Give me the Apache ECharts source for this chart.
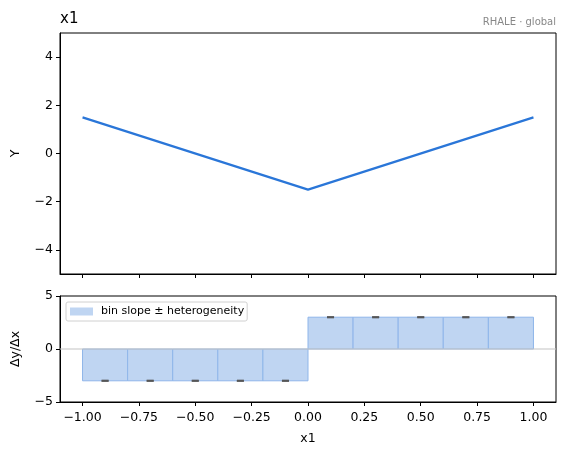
<!DOCTYPE html>
<html>
<head>
<meta charset="utf-8">
<script src="https://cdn.jsdelivr.net/npm/echarts@6/dist/echarts.min.js"></script>
<style>
  html, body { margin: 0; padding: 0; background: #fff; }
  #main { width: 565px; height: 455px; }
</style>
</head>
<body>
<div id="main"></div>
<script>
// effect curve (top panel)
var curveX = [-1.0, 0.0, 1.0];
var curveY = [1.5, -1.5, 1.5];

// bins (bottom panel)
var binEdges = [-1.0, -0.8, -0.6, -0.4, -0.2, 0.0, 0.2, 0.4, 0.6, 0.8, 1.0];
var binSlopes = [-3, -3, -3, -3, -3, 3, 3, 3, 3, 3];
var binHetero = [0, 0, 0, 0, 0, 0, 0, 0, 0, 0];

// tick labels
var xTicks = [-1.0, -0.75, -0.5, -0.25, 0.0, 0.25, 0.5, 0.75, 1.0];
var yTicksTop = [-4, -2, 0, 2, 4];
var yTicksBottom = [-5, 0, 5];

var FONT = 'DejaVu Sans';
function minus(s) { return String(s).replace('-', '\u2212'); }

var lineData = curveX.map(function (x, i) { return [x, curveY[i]]; });
var barData = binSlopes.map(function (s, i) { return [binEdges[i], binEdges[i + 1], s]; });
var errData = binSlopes.map(function (s, i) {
  return [(binEdges[i] + binEdges[i + 1]) / 2, s, binHetero[i]];
});

var myChart = echarts.init(document.getElementById('main'));

var tickStyle = { show: true, inside: false, length: 4, lineStyle: { color: '#000', width: 1 } };
var lineAxis = { show: true, onZero: false, lineStyle: { color: '#000', width: 1 } };
var labelStyle = { color: '#000', fontSize: 12.5, fontFamily: FONT };

var option = {
  animation: false,
  textStyle: { fontFamily: FONT },
  title: [
    { text: 'x1', left: 60, top: 12, padding: 0, textStyle: { fontSize: 15, fontWeight: 'normal', color: '#000', fontFamily: FONT } },
    { text: 'RHALE \u00b7 global', right: 9, top: 17, padding: 0, textStyle: { fontSize: 10, fontWeight: 'normal', color: '#888', fontFamily: FONT } }
  ],
  legend: {
    data: [{ name: 'bin slope \u00b1 heterogeneity', icon: 'rect' }],
    left: 66, top: 302,
    itemWidth: 23, itemHeight: 8,
    padding: [4, 3, 4, 4],
    borderColor: '#d0d0d0', borderWidth: 1, borderRadius: 2,
    textStyle: { fontSize: 11, color: '#000', fontFamily: FONT, padding: [0, 0, 0, 3] }
  },
  grid: [
    { left: 60, right: 9, top: 33, height: 241, containLabel: false, outerBoundsMode: 'none', show: true, borderColor: '#000', borderWidth: 1, backgroundColor: 'transparent' },
    { left: 60, right: 9, top: 296, height: 106, containLabel: false, outerBoundsMode: 'none', show: true, borderColor: '#000', borderWidth: 1, backgroundColor: 'transparent' }
  ],
  xAxis: [
    {
      type: 'value', gridIndex: 0, min: -1.1, max: 1.1,
      axisLine: lineAxis, splitLine: { show: false },
      axisTick: Object.assign({ customValues: xTicks }, tickStyle),
      axisLabel: { show: false, customValues: xTicks }
    },
    {
      type: 'value', gridIndex: 1, min: -1.1, max: 1.1,
      name: 'x1', nameLocation: 'middle', nameGap: 30,
      nameTextStyle: { fontSize: 12.5, color: '#000', fontFamily: FONT },
      axisLine: lineAxis, splitLine: { show: false },
      axisTick: Object.assign({ customValues: xTicks }, tickStyle),
      axisLabel: Object.assign({
        customValues: xTicks, margin: 9,
        formatter: function (v) { return minus(v.toFixed(2)); }
      }, labelStyle)
    }
  ],
  yAxis: [
    {
      type: 'value', gridIndex: 0, min: -5, max: 5,
      name: 'Y', nameLocation: 'middle', nameGap: 38,
      nameTextStyle: { fontSize: 12.5, color: '#000', fontFamily: FONT },
      axisLine: lineAxis, splitLine: { show: false },
      axisTick: Object.assign({ customValues: yTicksTop }, tickStyle),
      axisLabel: Object.assign({ customValues: yTicksTop, margin: 7, formatter: function (v) { return minus(v); } }, labelStyle)
    },
    {
      type: 'value', gridIndex: 1, min: -5, max: 5,
      name: '\u0394y/\u0394x', nameLocation: 'middle', nameGap: 38,
      nameTextStyle: { fontSize: 12.5, color: '#000', fontFamily: FONT },
      axisLine: lineAxis, splitLine: { show: false },
      axisTick: Object.assign({ customValues: yTicksBottom }, tickStyle),
      axisLabel: Object.assign({ customValues: yTicksBottom, margin: 7, formatter: function (v) { return minus(v); } }, labelStyle)
    }
  ],
  series: [
    {
      type: 'line', xAxisIndex: 0, yAxisIndex: 0,
      data: lineData, showSymbol: false,
      lineStyle: { color: '#2a76d8', width: 2.2 },
      silent: true
    },
    {
      name: 'bin slope \u00b1 heterogeneity',
      type: 'custom', xAxisIndex: 1, yAxisIndex: 1,
      data: barData,
      encode: { x: [0, 1], y: 2 },
      itemStyle: { color: '#bfd5f2', borderColor: '#8fb6ea' },
      z: 2,
      renderItem: function (params, api) {
        var p0 = api.coord([api.value(0), 0]);
        var p1 = api.coord([api.value(1), api.value(2)]);
        return {
          type: 'rect',
          shape: {
            x: Math.min(p0[0], p1[0]), y: Math.min(p0[1], p1[1]),
            width: Math.abs(p1[0] - p0[0]), height: Math.abs(p1[1] - p0[1])
          },
          style: { fill: '#bfd5f2', stroke: '#8fb6ea', lineWidth: 1 }
        };
      }
    },
    {
      type: 'line', xAxisIndex: 1, yAxisIndex: 1,
      data: [[-1.1, 0], [1.1, 0]], showSymbol: false,
      lineStyle: { color: '#c4c4c4', width: 1.2 },
      silent: true, z: 4
    },
    {
      type: 'custom', xAxisIndex: 1, yAxisIndex: 1,
      data: errData,
      encode: { x: 0, y: 1 },
      z: 5, silent: true,
      renderItem: function (params, api) {
        var xc = api.value(0), y = api.value(1), e = api.value(2);
        var top = api.coord([xc, y + e]);
        var bot = api.coord([xc, y - e]);
        return {
          type: 'group',
          children: [
            { type: 'line', shape: { x1: top[0], y1: top[1], x2: bot[0], y2: bot[1] }, style: { stroke: '#555', lineWidth: 1.5 } },
            { type: 'line', shape: { x1: top[0] - 3.5, y1: top[1], x2: top[0] + 3.5, y2: top[1] }, style: { stroke: '#555', lineWidth: 2, opacity: 0.85 } },
            { type: 'line', shape: { x1: bot[0] - 3.5, y1: bot[1], x2: bot[0] + 3.5, y2: bot[1] }, style: { stroke: '#555', lineWidth: 2, opacity: 0.85 } }
          ]
        };
      }
    }
  ]
};
myChart.setOption(option);
</script>
</body>
</html>
